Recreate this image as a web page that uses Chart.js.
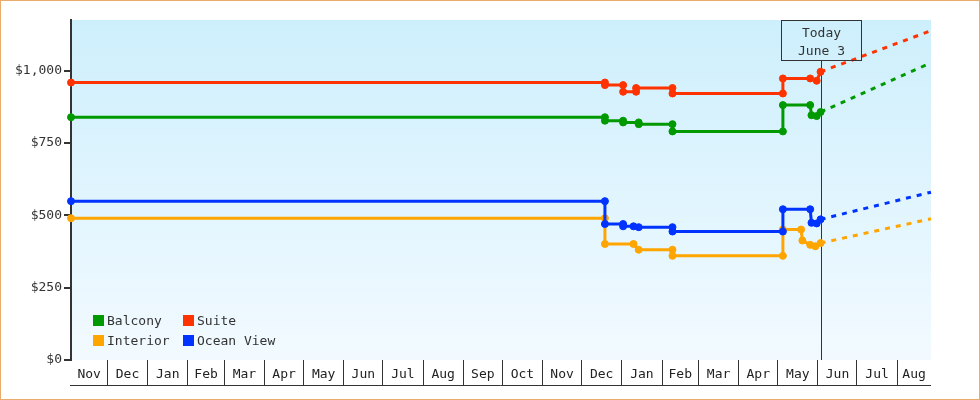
<!DOCTYPE html>
<html><head><meta charset="utf-8">
<script src="https://cdn.jsdelivr.net/npm/chart.js@4.4.1/dist/chart.umd.min.js"></script>
<style>html,body{margin:0;padding:0;background:#fff}canvas{display:block}</style>
</head><body>
<canvas id="c" width="980" height="400"></canvas>
<script>
// ---- data ----
const seriesNames = ['Balcony', 'Suite', 'Interior', 'Ocean View'];
const seriesColors = ['#009900', '#ff3300', '#ffa500', '#0033ff'];

const balconyDates = ['2021-11-03','2022-12-19','2022-12-19','2023-01-02','2023-01-02','2023-01-14','2023-01-14','2023-02-09','2023-02-09','2023-05-05','2023-05-05','2023-05-26','2023-05-27','2023-05-31','2023-06-03'];
const balconyPrices = [839,839,827,827,821,821,815,815,790,790,881,881,846,843,857];

const suiteDates = ['2021-11-03','2022-12-19','2022-12-19','2023-01-02','2023-01-02','2023-01-12','2023-01-12','2023-02-09','2023-02-09','2023-05-05','2023-05-05','2023-05-26','2023-05-31','2023-06-03'];
const suitePrices = [959,959,950,950,927,927,940,940,921,921,973,973,965,996];

const interiorDates = ['2021-11-03','2022-12-19','2022-12-19','2023-01-10','2023-01-14','2023-02-09','2023-02-09','2023-05-05','2023-05-05','2023-05-19','2023-05-20','2023-05-26','2023-05-30','2023-06-03'];
const interiorPrices = [490,490,401,401,381,381,360,360,451,451,413,398,393,404];

const oceanViewDates = ['2021-11-03','2022-12-19','2022-12-19','2023-01-02','2023-01-02','2023-01-10','2023-01-14','2023-02-09','2023-02-09','2023-05-05','2023-05-05','2023-05-26','2023-05-27','2023-05-31','2023-06-03'];
const oceanViewPrices = [549,549,470,470,462,462,459,459,444,444,521,521,474,472,486];

const projectionDates = ['2023-06-03','2023-08-27'];
const balconyProjection = [857, 1027];
const suiteProjection = [996, 1138];
const interiorProjection = [404, 488];
const oceanViewProjection = [486, 580];

const axisStart = '2021-11-03';
const axisEnd = '2023-08-27';
const todayDate = '2023-06-03';
const todayLines = ['Today', 'June 3'];
const monthNames = ['Jan','Feb','Mar','Apr','May','Jun','Jul','Aug','Sep','Oct','Nov','Dec'];
const yTickValues = [0, 250, 500, 750, 1000];
const yMax = 1175;

// ---- helpers ----
const FONT = '13px "DejaVu Sans Mono", monospace';
function day(s) { return Date.parse(s + 'T00:00:00Z') / 864e5; }
function pts(dates, vals) { return dates.map((d, i) => ({ x: day(d), y: vals[i] })); }

const xMin = day(axisStart), xMax = day(axisEnd);
// month bands
const months = [];
(function () {
  const s = new Date(axisStart + 'T00:00:00Z');
  let y = s.getUTCFullYear(), m = s.getUTCMonth();
  while (true) {
    const st = Date.UTC(y, m, 1) / 864e5;
    if (st > xMax) break;
    const en = Date.UTC(m === 11 ? y + 1 : y, (m + 1) % 12, 1) / 864e5;
    months.push({ start: st, end: en, label: monthNames[m] });
    m++; if (m > 11) { m = 0; y++; }
  }
})();
const monthBoundaries = months.map(o => o.start).filter(v => v > xMin && v < xMax);

const mainSeries = [
  [balconyDates, balconyPrices],
  [suiteDates, suitePrices],
  [interiorDates, interiorPrices],
  [oceanViewDates, oceanViewPrices]
];
const projSeries = [balconyProjection, suiteProjection, interiorProjection, oceanViewProjection];

const datasets = [];
seriesNames.forEach((n, i) => {
  datasets.push({
    label: n, order: 10 - i,
    data: pts(mainSeries[i][0], mainSeries[i][1]),
    borderColor: seriesColors[i], backgroundColor: seriesColors[i],
    pointBackgroundColor: seriesColors[i], pointBorderColor: seriesColors[i],
    borderWidth: 3, pointRadius: 3.5, pointBorderWidth: 1, tension: 0, fill: false, clip: false
  });
});
seriesNames.forEach((n, i) => {
  datasets.push({
    label: n + ' projection', isProjection: true, order: 20 - i,
    data: pts(projectionDates, projSeries[i]),
    borderColor: seriesColors[i], backgroundColor: seriesColors[i],
    borderWidth: 3, borderDash: [5, 6], pointRadius: 0, tension: 0, fill: false, clip: false
  });
});

const decor = {
  id: 'decor',
  beforeDraw(chart) {
    const { ctx, chartArea: a } = chart;
    const g = ctx.createLinearGradient(0, a.top, 0, a.bottom);
    g.addColorStop(0, '#cdeffc');
    g.addColorStop(1, '#f2faff');
    ctx.save(); ctx.fillStyle = g; ctx.fillRect(a.left, a.top, a.right - a.left, a.bottom - a.top); ctx.restore();
  },
  beforeDatasetsDraw(chart) {
    const { ctx, chartArea: a } = chart;
    const tx = Math.round(chart.scales.x.getPixelForValue(day(todayDate))) + 0.5;
    ctx.save(); ctx.strokeStyle = '#333'; ctx.lineWidth = 1;
    ctx.beginPath(); ctx.moveTo(tx, a.top + 40); ctx.lineTo(tx, a.bottom); ctx.stroke(); ctx.restore();
  },
  afterDatasetsDraw(chart) {
    const { ctx, chartArea: a } = chart;
    const tx = Math.round(chart.scales.x.getPixelForValue(day(todayDate)));
    ctx.save(); ctx.strokeStyle = '#333'; ctx.lineWidth = 1;
    ctx.strokeRect(tx - 40 + 0.5, a.top + 0.5, 80, 40);
    ctx.fillStyle = '#333'; ctx.font = FONT; ctx.textAlign = 'center'; ctx.textBaseline = 'alphabetic';
    ctx.fillText(todayLines[0], tx + 0.5, a.top + 17);
    ctx.fillText(todayLines[1], tx + 0.5, a.top + 35);
    ctx.restore();
  },
  afterDraw(chart) {
    const { ctx, chartArea: a } = chart;
    const xs = chart.scales.x;
    ctx.save();
    // bottom line of month row
    ctx.strokeStyle = '#333'; ctx.lineWidth = 1;
    ctx.beginPath(); ctx.moveTo(a.left - 1, a.bottom + 25.5); ctx.lineTo(a.right, a.bottom + 25.5); ctx.stroke();
    // month labels
    ctx.fillStyle = '#222'; ctx.font = FONT; ctx.textAlign = 'center'; ctx.textBaseline = 'alphabetic';
    months.forEach(m => {
      const s = Math.max(m.start, xMin), e = Math.min(m.end, xMax);
      if (e <= s) return;
      const c = (xs.getPixelForValue(s) + xs.getPixelForValue(e)) / 2;
      ctx.fillText(m.label, c, a.bottom + 18);
    });
    // legend
    ctx.textAlign = 'left';
    chart.data.datasets.filter(d => !d.isProjection).forEach((d, i) => {
      const lx = a.left + 22 + (i % 2) * 90;
      const ly = a.bottom - 45 + Math.floor(i / 2) * 20;
      ctx.fillStyle = d.borderColor; ctx.fillRect(lx, ly, 11, 11);
      ctx.fillStyle = '#333'; ctx.fillText(d.label, lx + 14, ly + 10);
    });
    // outer border
    ctx.strokeStyle = '#e9ac6c'; ctx.lineWidth = 1;
    ctx.strokeRect(0.5, 0.5, chart.width - 1, chart.height - 1);
    ctx.restore();
  }
};

new Chart(document.getElementById('c'), {
  type: 'line',
  data: { datasets },
  plugins: [decor],
  options: {
    responsive: false, animation: false, devicePixelRatio: 1,
    layout: { padding: { left: 0, right: 49, top: 20, bottom: 0 } },
    plugins: { legend: { display: false }, tooltip: { enabled: false } },
    events: [],
    scales: {
      x: {
        type: 'linear', min: xMin, max: xMax, position: 'bottom',
        border: { display: false },
        grid: { drawOnChartArea: false, drawTicks: true, tickLength: 25, color: '#333', lineWidth: 1 },
        ticks: { display: false },
        afterBuildTicks: s => { s.ticks = monthBoundaries.map(v => ({ value: v })); },
        afterFit: s => { s.height = 40; }
      },
      y: {
        min: 0, max: yMax, position: 'left',
        border: { display: true, color: '#333', width: 2 },
        grid: { drawOnChartArea: false, drawTicks: true, tickLength: 7, color: '#333', lineWidth: 2 },
        ticks: { color: '#333', padding: 2, font: { family: '"DejaVu Sans Mono", monospace', size: 13 },
                 callback: v => '$' + Number(v).toLocaleString('en-US') },
        afterBuildTicks: s => { s.ticks = yTickValues.map(v => ({ value: v })); },
        afterFit: s => { s.width = 71; }
      }
    }
  }
});
</script>
</body></html>
